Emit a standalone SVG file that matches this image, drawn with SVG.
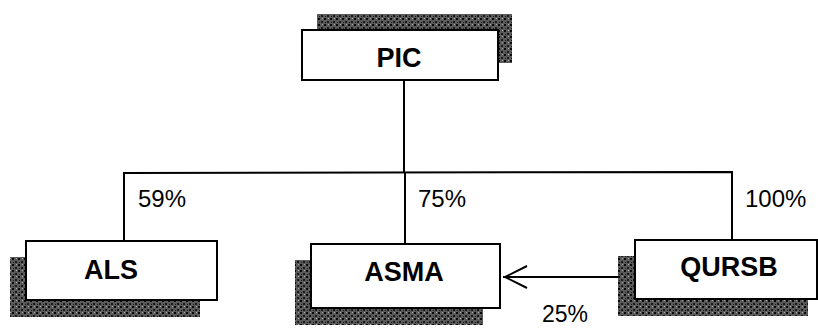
<svg xmlns="http://www.w3.org/2000/svg" width="818" height="329" viewBox="0 0 818 329">
<defs>
<pattern id="speck" width="6" height="6" patternUnits="userSpaceOnUse">
<rect width="6" height="6" fill="#5a5a5a"/>
<rect x="0" y="0" width="2" height="2" fill="#0a0a0a"/>
<rect x="3" y="3" width="2" height="2" fill="#1a1a1a"/>
<rect x="4" y="0" width="1" height="1" fill="#aaa"/>
<rect x="1" y="4" width="1" height="1" fill="#222"/>
</pattern>
<style>
.shadow{fill:url(#speck);}
.box{fill:#fff;stroke:#000;stroke-width:2;}
.lbl{font-family:"Liberation Sans",Arial,sans-serif;font-weight:bold;font-size:27px;fill:#000;text-anchor:middle;}
.pct{font-family:"Liberation Sans",Arial,sans-serif;font-size:24px;fill:#000;}
.ln{stroke:#000;stroke-width:2;fill:none;}
</style>
</defs>
<rect width="818" height="329" fill="#fff"/>
<g id="connectors">
<line class="ln" x1="404" y1="80" x2="404" y2="173"/>
<polyline class="ln" points="124,241 124,173 732,172 732,240"/>
<line class="ln" x1="405" y1="173" x2="405" y2="244"/>
<line class="ln" x1="618" y1="277" x2="503" y2="277"/>
<polyline class="ln" points="527,266 505,277 527,288"/>
<text class="pct" x="138" y="207">59%</text>
<text class="pct" x="418" y="207">75%</text>
<text class="pct" x="745" y="207">100%</text>
<text class="pct" x="542" y="322" style="font-size:23px">25%</text>
</g>
<g id="PIC">
<rect class="shadow" x="317" y="14" width="195" height="49"/>
<rect class="box" x="302" y="30" width="196" height="50"/>
<text class="lbl" x="399" y="67">PIC</text>
</g>
<g id="ALS">
<rect class="shadow" x="10" y="257" width="190" height="60"/>
<rect class="box" x="26" y="241" width="191" height="59"/>
<text class="lbl" x="111" y="279">ALS</text>
</g>
<g id="ASMA">
<rect class="shadow" x="295" y="260" width="188" height="65"/>
<rect class="box" x="311" y="244" width="189" height="64"/>
<text class="lbl" x="404" y="281">ASMA</text>
</g>
<g id="QURSB">
<rect class="shadow" x="618" y="256" width="190" height="60"/>
<rect class="box" x="635" y="240" width="182" height="59"/>
<text class="lbl" x="729" y="276">QURSB</text>
</g>
</svg>
